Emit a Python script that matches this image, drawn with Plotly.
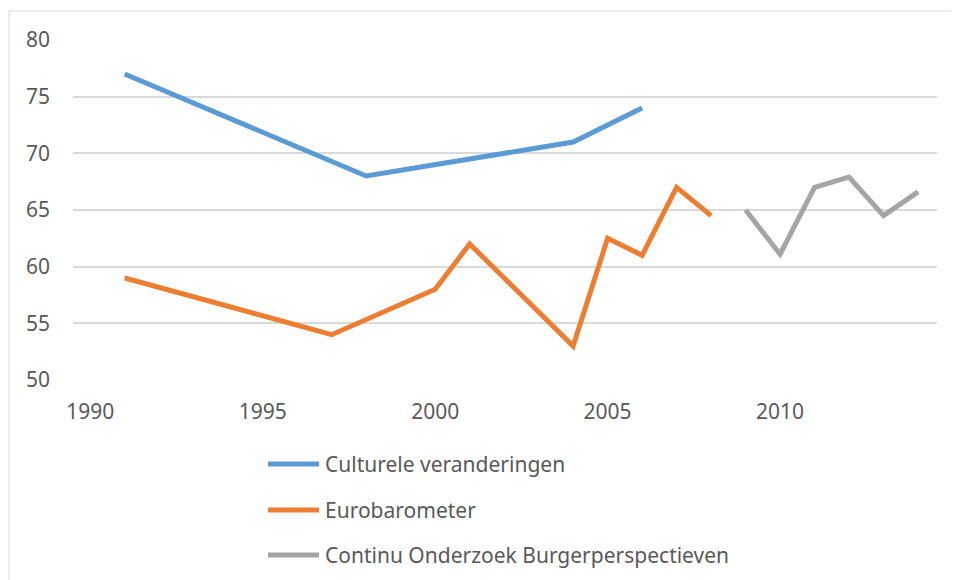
import plotly.graph_objects as go

# Data
series_names = ["Culturele veranderingen", "Eurobarometer", "Continu Onderzoek Burgerperspectieven"]
cult_years = [1991, 1998, 2004, 2006]
cult_values = [77, 68, 71, 74]
euro_years = [1991, 1997, 2000, 2001, 2004, 2005, 2006, 2007, 2008]
euro_values = [59, 54, 58, 62, 53, 62.5, 61, 67, 64.5]
cob_years = [2009, 2010, 2011, 2012, 2013, 2014]
cob_values = [65, 61.1, 67, 67.9, 64.5, 66.6]
x_ticks = [1990, 1995, 2000, 2005, 2010]
y_ticks = [50, 55, 60, 65, 70, 75, 80]

colors = ["#5B9BD5", "#ED7D31", "#A5A5A5"]
FONT = "Noto Sans"
FS = 21

fig = go.Figure()
for name, xs, ys, c in zip(series_names, [cult_years, euro_years, cob_years],
                           [cult_values, euro_values, cob_values], colors):
    fig.add_trace(go.Scatter(x=xs, y=ys, name=name, mode="lines",
                             line=dict(color=c, width=5), showlegend=False))

OFF = 8  # page body margin
W, H = 959 - OFF, 580 - OFF
L, R, T, B = 73 - OFF, 959 - 937, 40 - OFF, 580 - 380
pw, ph = W - L - R, H - T - B

def px_x(p):
    return (p - OFF - L) / pw

def px_y(p):
    return (H - B - (p - OFF)) / ph

shapes = [dict(type="rect", xref="paper", yref="paper",
               x0=px_x(9), x1=px_x(975), y0=px_y(600), y1=px_y(11),
               line=dict(color="#D9D9D9", width=1), fillcolor="rgba(0,0,0,0)", layer="below")]
annotations = []
legend_rows = [464, 510, 555]
for name, c, ry in zip(series_names, colors, legend_rows):
    shapes.append(dict(type="line", xref="paper", yref="paper",
                       x0=px_x(268), x1=px_x(319), y0=px_y(ry), y1=px_y(ry),
                       line=dict(color=c, width=5)))
    annotations.append(dict(x=px_x(323), y=px_y(ry), xref="paper", yref="paper",
                            text=name, showarrow=False, xanchor="left", yanchor="middle",
                            font=dict(family=FONT, size=FS, color="#595959")))

fig.update_layout(
    width=W, height=H,
    margin=dict(l=L, r=R, t=T, b=B),
    paper_bgcolor="white", plot_bgcolor="white",
    font=dict(family=FONT, size=FS, color="#595959"),
    shapes=shapes, annotations=annotations,
    xaxis=dict(range=[1989.5, 2014.55], tickvals=x_ticks, showgrid=False,
               zeroline=False, showline=False, ticks="", ticklabelstandoff=17,
               tickfont=dict(family=FONT, size=FS, color="#595959")),
    yaxis=dict(range=[50, 80], tickvals=y_ticks, showgrid=True, gridcolor="#D9D9D9",
               gridwidth=1.5, zeroline=False, showline=False, ticks="", ticklabelstandoff=22,
               tickfont=dict(family=FONT, size=FS, color="#595959")),
)
fig.write_html("out.html")
